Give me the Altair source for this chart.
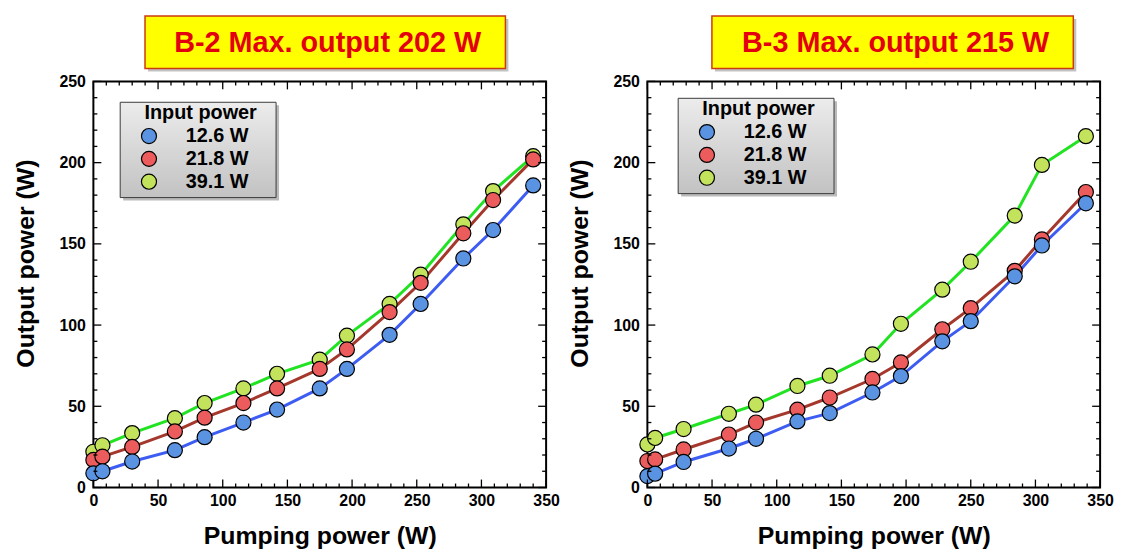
import altair as alt
import pandas as pd

# ---------------- data ----------------
series_labels = ["12.6 W", "21.8 W", "39.1 W"]
line_colors = ["#3d5cf2", "#a5382c", "#22e322"]
point_fills = ["#5a93e2", "#ec5c5c", "#c4e35c"]

pump_b2 = [0, 7, 30, 63, 86, 116, 142, 175, 196, 229, 253, 286, 309, 340]
b2_126 = [8.7, 10, 16, 23, 31, 40, 48, 61, 73, 94, 113, 141, 158.5, 186]
b2_218 = [17, 19, 25, 34.5, 43, 52, 61, 73, 85, 108, 126, 156.5, 177, 202]
b2_391 = [22, 26, 33.5, 42.7, 52, 61, 70, 78.7, 93.5, 113, 131, 162, 182.5, 204]

pump_b3 = [0, 6, 28, 63, 84, 116, 141, 174, 196, 228, 250, 284, 305, 339]
b3_126 = [7, 8.5, 15.7, 24, 30, 40.7, 45.8, 58.5, 68.6, 90, 102.4, 130, 149, 175]
b3_218 = [16.3, 17.3, 23.4, 32.6, 40, 47.9, 55.4, 66.8, 77, 97.4, 110.4, 133.4, 152.7, 181.9]
b3_391 = [26.5, 30.5, 36, 45.4, 51, 62.5, 68.8, 81.9, 100.8, 121.8, 139, 167.4, 198.6, 216.3]

title_b2 = "B-2 Max. output 202 W"
title_b3 = "B-3 Max. output 215 W"
legend_title = "Input power"

x_major = list(range(0, 351, 50))
x_minor = [v for v in range(0, 351, 10) if v % 50]
y_major = list(range(0, 251, 50))
y_minor = [v for v in range(0, 251, 10) if v % 50]

FONT = "Liberation Sans"
W, H = 456, 409
NB = "\u00a0"


def one():
    return alt.Chart(pd.DataFrame({"k": [0]}))


def panel(pump, series_vals, title_text, box_x0, box_x1, text_cx, lx, ly):
    rows = []
    draw_order = {"39.1 W": 0, "21.8 W": 1, "12.6 W": 2}
    for lab, vals in zip(series_labels, series_vals):
        for p, v in zip(pump, vals):
            rows.append({"pump": p, "out": v, "series": lab, "ord": draw_order[lab]})
    df = pd.DataFrame(rows).sort_values(["ord", "pump"])

    xs = alt.Scale(domain=[0, 350], nice=False, zero=False)
    ys = alt.Scale(domain=[0, 250], nice=False, zero=False)
    xax = alt.Axis(title="Pumping power (W)", values=x_major,
                   labelFlush=False, labelPadding=5, titlePadding=15)
    yax = alt.Axis(title="Output power (W)",
                   values=y_major, labelFlush=False, labelPadding=8, titlePadding=21,
                   titleY=183)

    base = alt.Chart(df)
    lines = base.mark_line(strokeWidth=3).encode(
        x=alt.X("pump:Q", scale=xs, axis=xax),
        y=alt.Y("out:Q", scale=ys, axis=yax),
        color=alt.Color("series:N", scale=alt.Scale(domain=series_labels, range=line_colors),
                        legend=None),
        detail="series:N",
    )
    points = base.mark_point(shape="circle", filled=True, size=230, stroke="black",
                             strokeWidth=1.2, opacity=1).encode(
        x=alt.X("pump:Q", scale=xs, axis=xax),
        y=alt.Y("out:Q", scale=ys, axis=yax),
        fill=alt.Fill("series:N", scale=alt.Scale(domain=series_labels, range=point_fills),
                      legend=None),
        order=alt.Order("ord:Q"),
    )

    # inward ticks on all four sides
    tick_layers = []
    for vals, ln in ((x_major, 8), (x_minor, 4)):
        tdf = pd.DataFrame({"pump": vals})
        tick_layers.append(alt.Chart(tdf).mark_rule(color="black", strokeWidth=1.3).encode(
            x=alt.X("pump:Q", scale=xs, axis=xax), y=alt.value(H), y2=alt.value(H - ln)))
        tick_layers.append(alt.Chart(tdf).mark_rule(color="black", strokeWidth=1.3).encode(
            x=alt.X("pump:Q", scale=xs, axis=xax), y=alt.value(0), y2=alt.value(ln)))
    for vals, ln in ((y_major, 8), (y_minor, 4)):
        tdf = pd.DataFrame({"out": vals})
        tick_layers.append(alt.Chart(tdf).mark_rule(color="black", strokeWidth=1.3).encode(
            y=alt.Y("out:Q", scale=ys, axis=yax), x=alt.value(0), x2=alt.value(ln)))
        tick_layers.append(alt.Chart(tdf).mark_rule(color="black", strokeWidth=1.3).encode(
            y=alt.Y("out:Q", scale=ys, axis=yax), x=alt.value(W), x2=alt.value(W - ln)))

    # title box
    deco = []
    deco.append(one().mark_rect(fill="#777777", opacity=0.45).encode(
        x=alt.value(box_x0 + 3), x2=alt.value(box_x1 + 3), y=alt.value(-63), y2=alt.value(-10)))
    deco.append(one().mark_rect(fill="#ffff00", stroke="#cc3a10", strokeWidth=1.5).encode(
        x=alt.value(box_x0), x2=alt.value(box_x1), y=alt.value(-66), y2=alt.value(-13)))
    deco.append(one().mark_text(text=title_text, font=FONT, fontSize=29, fontWeight="bold",
                                color="#e3000f", align="center", baseline="middle").encode(
        x=alt.value(text_cx), y=alt.value(-39)))

    # legend box
    grad = alt.LinearGradient(gradient="linear",
                              stops=[alt.GradientStop(offset=0, color="#ececec"),
                                     alt.GradientStop(offset=1, color="#c2c2c2")],
                              x1=0, x2=0, y1=0, y2=1)
    deco.append(one().mark_rect(fill="#666666", opacity=0.45).encode(
        x=alt.value(lx + 3), x2=alt.value(lx + 160), y=alt.value(ly + 3), y2=alt.value(ly + 99)))
    deco.append(one().mark_rect(fill=grad, stroke="#3a3a3a", strokeWidth=1).encode(
        x=alt.value(lx), x2=alt.value(lx + 157), y=alt.value(ly), y2=alt.value(ly + 96)))
    deco.append(one().mark_text(text=legend_title, font=FONT, fontSize=20, fontWeight="bold",
                                color="black", align="center", baseline="middle").encode(
        x=alt.value(lx + 81), y=alt.value(ly + 11)))
    for i, (lab, fc) in enumerate(zip(series_labels, point_fills)):
        yy = ly + 34 + 23 * i
        deco.append(one().mark_point(shape="circle", filled=True, size=230, fill=fc,
                                     stroke="black", strokeWidth=1.2, opacity=1).encode(
            x=alt.value(lx + 29), y=alt.value(yy)))
        deco.append(one().mark_text(text=lab, font=FONT, fontSize=20, fontWeight="bold",
                                    color="black", align="left", baseline="middle").encode(
            x=alt.value(lx + 66), y=alt.value(yy)))

    return alt.layer(lines, points, *tick_layers, *deco).properties(width=W, height=H)


left = panel(pump_b2, [b2_126, b2_218, b2_391], title_b2, 52, 415, 236, 27, 21)
right = panel(pump_b3, [b3_126, b3_218, b3_391], title_b3, 65, 429, 250, 31, 17)

chart = alt.hconcat(left, right, spacing=5).properties(
    padding={"left": 4, "top": 4, "right": 0, "bottom": 0}
).configure_view(stroke="black", strokeWidth=2).configure_axis(
    domain=False, ticks=False, grid=False,
    labelFont=FONT, labelFontWeight="bold", labelFontSize=16, labelColor="black",
    titleFont=FONT, titleFontWeight="bold", titleFontSize=25, titleColor="black",
    labelOverlap=False,
)

chart.save("out.html", embed_options={"renderer": "svg", "actions": False})
